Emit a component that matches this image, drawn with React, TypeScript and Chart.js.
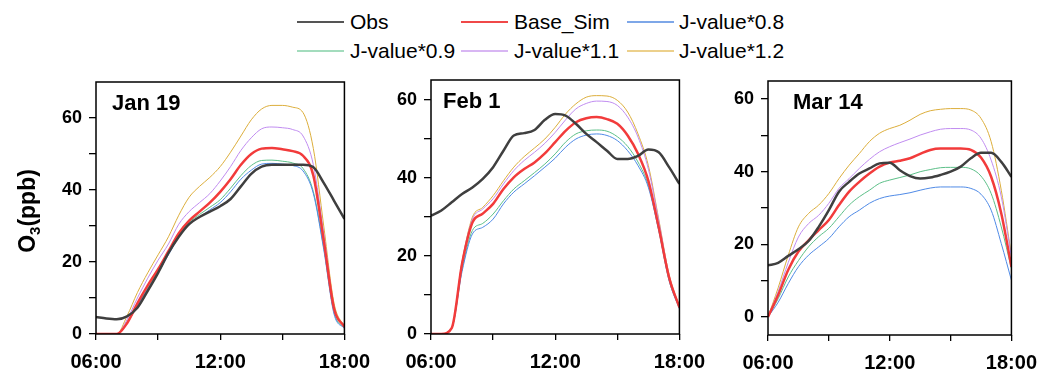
import React, { useEffect, useRef } from "react";
import { Chart, registerables } from "chart.js";

Chart.register(...registerables);

const FONT = '"Liberation Sans", Arial, Helvetica, sans-serif';

// ---- data ----
const hours = [6, 6.5, 7, 7.5, 8, 8.5, 9, 9.5, 10, 10.5, 11, 11.5, 12, 12.5, 13, 13.5, 14, 14.5, 15, 15.5, 16, 16.5, 17, 17.5, 18];

const seriesNames = ["Obs", "Base_Sim", "J-value*0.8", "J-value*0.9", "J-value*1.1", "J-value*1.2"];
const seriesColors = ["#3f3f3f", "#f23b3b", "#4f8ae6", "#5cbf88", "#c08cf0", "#dcae3c"];
const legendColors = ["#555555", "#f04848", "#7ea7e8", "#a3dcbd", "#d8b6f3", "#ecd08c"];
const seriesWidths = [2.5, 2.5, 1, 1, 1, 1];

const xTickHours = [6, 9, 12, 15, 18];
const xTickLabels = ["06:00", "", "12:00", "", "18:00"];
const yTickValues = [0, 10, 20, 30, 40, 50, 60];
const yTickLabels = ["0", "", "20", "", "40", "", "60"];

const janObs = [4.7, 4.3, 4.1, 4.9, 7.3, 12, 17, 22.5, 27, 30.5, 32.5, 34, 35.5, 37.5, 41, 44.5, 46.5, 47, 47, 47, 47, 46.3, 42, 37, 32];
const janBase = [0, 0, 0, 3, 8.5, 13.5, 18, 23, 28, 31.5, 34, 36.5, 39.5, 43, 47, 50, 51.5, 51.7, 51.3, 50.8, 49.5, 44, 26, 7, 2];
const janJ08 = [0, 0, 0, 3, 8, 12.5, 17, 22, 27, 30.5, 32.5, 34.5, 36.5, 39.5, 43, 45.5, 47.2, 47.4, 47.2, 46.8, 45.3, 39, 23.5, 5.5, 1.5];
const janJ09 = [0, 0, 0, 3, 8, 12.8, 17.5, 22.5, 27.5, 31, 33.2, 35.2, 37.3, 40.5, 44, 46.8, 48.2, 48.3, 48, 47.5, 46, 39.5, 24, 6, 1.5];
const janJ11 = [0, 0, 0, 4, 10, 15.5, 20.5, 25, 30.5, 34, 36.5, 39, 42.5, 46.5, 51, 54.5, 57, 57.5, 57.3, 56.8, 55, 47, 28, 7.5, 2];
const janJ12 = [0, 0, 0, 5, 11.5, 17, 22, 27, 33, 38, 41, 43.5, 46.5, 50.5, 55, 59.5, 62.5, 63.5, 63.5, 63, 61.5, 51.5, 30, 8.5, 2];

const febObs = [30.3, 31.6, 33.7, 35.8, 37.5, 39.7, 42.7, 46.9, 50.8, 51.4, 52.2, 54.8, 56.3, 55.9, 53.8, 51.2, 49.1, 46.9, 44.8, 44.8, 45.6, 47.2, 46.5, 42.7, 38.4];
const febBase = [0, 0, 1.5, 18, 28.5, 30.8, 33.3, 37.1, 40.1, 42.2, 43.9, 46.2, 49.1, 52, 54.2, 55.2, 55.5, 55, 53.8, 50.8, 46.1, 39.2, 27.3, 14.5, 6.8];
const febJ08 = [0, 0, 1.5, 16, 25.6, 27.3, 29.4, 33.3, 36.3, 38.4, 40.5, 42.7, 45, 47.8, 49.9, 50.9, 51.2, 50.8, 49.5, 46.9, 43.1, 37.5, 26.5, 13.7, 6.4];
const febJ09 = [0, 0, 1.5, 16.5, 26.5, 28.3, 30.7, 34.1, 37.1, 39.2, 41.3, 43.5, 46.1, 49.1, 51.2, 52, 52.2, 51.9, 50.5, 48, 44, 38, 26.6, 13.8, 6.6];
const febJ11 = [0, 0, 1.5, 18.5, 29.4, 32, 34.6, 38.4, 41.8, 44.4, 46.5, 48.8, 51.6, 54.8, 57.6, 59, 59.6, 59.5, 58.5, 55.5, 50.4, 42.2, 29, 15, 6.8];
const febJ12 = [0, 0, 1.5, 18.5, 29.9, 32.4, 35.4, 39.2, 42.7, 45.4, 47.6, 49.9, 52.9, 56.3, 58.9, 60.6, 61, 60.9, 59.8, 56.8, 51.2, 43.1, 29.4, 15.2, 7];

const marObs = [14.2, 14.9, 16.8, 18.6, 20.9, 24.8, 29.4, 34.5, 37.2, 39.5, 40.9, 42.3, 42.5, 40.4, 38.8, 38.1, 38.4, 39.1, 40, 41.4, 43.7, 45.2, 45.2, 42.7, 38.6];
const marBase = [0, 6, 13, 18, 21.1, 23.9, 26.7, 30.8, 34.5, 37.2, 39.5, 41.4, 42.5, 43, 43.7, 44.9, 46, 46.4, 46.4, 46.4, 46, 43.9, 38.6, 28.5, 13.8];
const marJ08 = [0, 4, 9.2, 13.8, 17, 19.3, 21.6, 24.8, 27.6, 29.4, 31.3, 32.6, 33.3, 33.7, 34.2, 34.9, 35.5, 35.8, 35.8, 35.8, 35.4, 33.8, 29.4, 20.2, 10.1];
const marJ09 = [0, 5, 11, 15.5, 19.3, 22.1, 24.4, 27.6, 30.8, 33.1, 34.9, 36.8, 37.7, 38.4, 39.1, 40, 40.6, 41.1, 41.2, 41.2, 40.8, 38.8, 34, 24.8, 13.3];
const marJ11 = [0, 7, 15, 22, 25.7, 28, 31.3, 35.4, 38.1, 40.9, 43.4, 45.5, 46.9, 48, 49, 50.1, 51, 51.7, 51.9, 51.9, 51.5, 49.2, 43.2, 33.1, 16.5];
const marJ12 = [0, 8, 17, 24.8, 28.5, 30.8, 34, 38.1, 41.8, 45, 48.3, 50.6, 51.9, 52.8, 54.2, 55.8, 56.8, 57.2, 57.4, 57.4, 57, 54.7, 48.3, 34.9, 17];

const panelTitles = ["Jan 19", "Feb 1", "Mar 14"];
const panelSeries = [
  [janObs, janBase, janJ08, janJ09, janJ11, janJ12],
  [febObs, febBase, febJ08, febJ09, febJ11, febJ12],
  [marObs, marBase, marJ08, marJ09, marJ11, marJ12],
];
const panelYMin = [0, 0, -5];
const panelYMax = [70, 65, 65];

// ---- layout (pixels) ----
const CANVAS_TOP = 60;
const CANVAS_H = 310;
const layouts = [
  { left: 0, width: 380, axisW: 96, padTop: 22, padRight: 34, xAxisH: 36, titleDx: 16 },
  { left: 360, width: 355, axisW: 71, padTop: 20, padRight: 34, xAxisH: 36, titleDx: 12 },
  { left: 700, width: 347, axisW: 68, padTop: 21, padRight: 29, xAxisH: 35, titleDx: 25 },
];

function makeChart(canvas: HTMLCanvasElement, i: number) {
  const lay = layouts[i];
  const series = panelSeries[i];
  const datasets = series.map((vals, k) => ({
    label: seriesNames[k],
    data: vals.map((v, j) => ({ x: hours[j], y: v })),
    borderColor: seriesColors[k],
    backgroundColor: seriesColors[k],
    borderWidth: seriesWidths[k],
    pointRadius: 0,
    fill: false,
    cubicInterpolationMode: "monotone" as const,
  }));

  const framePlugin = {
    id: "frame" + i,
    afterDraw(chart: any) {
      const { ctx, chartArea: a } = chart;
      ctx.save();
      ctx.strokeStyle = "#000";
      ctx.lineWidth = 1.5;
      ctx.strokeRect(a.left, a.top, a.right - a.left, a.bottom - a.top);
      ctx.fillStyle = "#000";
      ctx.font = `bold 22px ${FONT}`;
      ctx.textBaseline = "middle";
      ctx.textAlign = "left";
      ctx.fillText(panelTitles[i], a.left + lay.titleDx, a.top + 22);
      if (i === 0) {
        ctx.translate(27, 211 - CANVAS_TOP);
        ctx.rotate(-Math.PI / 2);
        const big = `bold 23px ${FONT}`;
        const small = `bold 15px ${FONT}`;
        ctx.font = big;
        const wO = ctx.measureText("O").width;
        const wP = ctx.measureText("(ppb)").width;
        ctx.font = small;
        const w3 = ctx.measureText("3").width;
        const total = wO + w3 + wP;
        let x = -total / 2;
        ctx.textBaseline = "alphabetic";
        ctx.font = big;
        ctx.fillText("O", x, 8);
        x += wO;
        ctx.font = small;
        ctx.fillText("3", x, 13);
        x += w3;
        ctx.font = big;
        ctx.fillText("(ppb)", x, 8);
      }
      ctx.restore();
    },
  };

  return new Chart(canvas, {
    type: "line",
    data: { datasets },
    options: {
      animation: false,
      responsive: false,
      devicePixelRatio: 1,
      events: [],
      layout: { padding: { top: lay.padTop, right: lay.padRight, left: 0, bottom: 0 } },
      plugins: { legend: { display: false }, tooltip: { enabled: false }, title: { display: false } },
      scales: {
        x: {
          type: "linear",
          min: 6,
          max: 18,
          afterBuildTicks: (scale: any) => {
            scale.ticks = xTickHours.map((v) => ({ value: v }));
          },
          afterFit: (scale: any) => {
            scale.height = lay.xAxisH;
          },
          ticks: {
            autoSkip: false,
            maxRotation: 0,
            padding: 10,
            color: "#000",
            font: { family: FONT, size: 20, weight: "bold" },
            callback: (v: any) => {
              const idx = xTickHours.indexOf(Number(v));
              return idx >= 0 ? xTickLabels[idx] : "";
            },
          },
          grid: { display: true, drawOnChartArea: false, drawTicks: true, tickLength: 6, color: "#000", lineWidth: 1.3 },
          border: { display: false },
        },
        y: {
          type: "linear",
          min: panelYMin[i],
          max: panelYMax[i],
          afterBuildTicks: (scale: any) => {
            scale.ticks = yTickValues.map((v) => ({ value: v }));
          },
          afterFit: (scale: any) => {
            scale.width = lay.axisW;
          },
          ticks: {
            autoSkip: false,
            padding: 7,
            color: "#000",
            font: { family: FONT, size: 18, weight: "bold" },
            callback: (v: any) => {
              const idx = yTickValues.indexOf(Number(v));
              return idx >= 0 ? yTickLabels[idx] : "";
            },
          },
          grid: { display: true, drawOnChartArea: false, drawTicks: true, tickLength: 7, color: "#000", lineWidth: 1.3 },
          border: { display: false },
        },
      },
    } as any,
    plugins: [framePlugin],
  });
}

export default function App() {
  const r0 = useRef<HTMLCanvasElement>(null);
  const r1 = useRef<HTMLCanvasElement>(null);
  const r2 = useRef<HTMLCanvasElement>(null);

  useEffect(() => {
    const refs = [r0, r1, r2];
    const charts = refs.map((r, i) => makeChart(r.current as HTMLCanvasElement, i));
    return () => charts.forEach((c) => c.destroy());
  }, []);

  const refs = [r0, r1, r2];
  const legendRows = [
    [0, 1, 2],
    [3, 4, 5],
  ];
  const rowCenters = [22, 51];
  const colLineX = [297, 461, 627];
  const colTextX = [350, 514, 679];

  return (
    <div style={{ position: "absolute", left: 0, top: 0, width: 1047, height: 370, background: "#fff", overflow: "hidden" }}>
      {legendRows.map((row, ri) =>
        row.map((k, ci) => (
          <React.Fragment key={k}>
            <div
              style={{
                position: "absolute",
                left: colLineX[ci],
                top: rowCenters[ri] - (k < 2 ? 1 : 0.75),
                width: 47,
                height: k < 2 ? 2 : 1.5,
                background: legendColors[k],
              }}
            />
            <div
              style={{
                position: "absolute",
                left: colTextX[ci],
                top: rowCenters[ri] - 12,
                fontFamily: FONT,
                fontSize: 21,
                lineHeight: "24px",
                color: "#000",
                whiteSpace: "nowrap",
              }}
            >
              {seriesNames[k]}
            </div>
          </React.Fragment>
        ))
      )}
      {layouts.map((lay, i) => (
        <canvas
          key={i}
          ref={refs[i]}
          width={lay.width}
          height={CANVAS_H}
          style={{ position: "absolute", left: lay.left, top: CANVAS_TOP, width: lay.width, height: CANVAS_H }}
        />
      ))}
    </div>
  );
}
